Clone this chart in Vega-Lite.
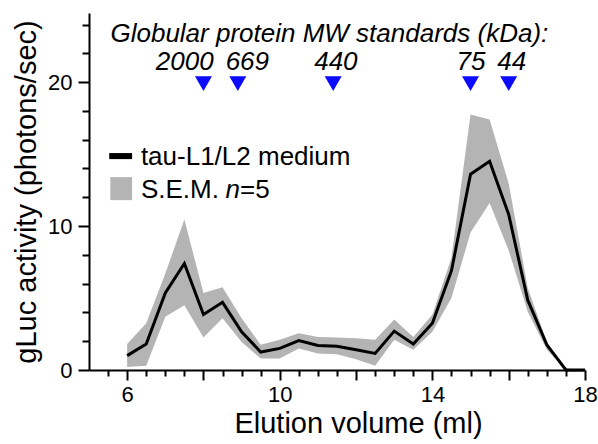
{
  "$schema": "https://vega.github.io/schema/vega-lite/v6.json",
  "width": 496,
  "height": 357,
  "autosize": {"type": "none"},
  "padding": {"left": 89, "top": 13, "right": 13, "bottom": 74},
  "config": {
    "view": {"stroke": null},
    "font": "Liberation Sans",
    "axis": {
      "grid": false,
      "domainColor": "black",
      "domainWidth": 2,
      "tickColor": "black",
      "tickWidth": 2,
      "labelColor": "black",
      "titleColor": "black",
      "labelFont": "Liberation Sans",
      "titleFont": "Liberation Sans",
      "titleFontWeight": "normal",
      "labelFontSize": 22,
      "titleFontSize": 29
    }
  },
  "resolve": {"axis": {"x": "independent", "y": "independent"}},
  "datasets": {
    "series": [
      {"x": 6, "y": 1.0, "lo": 0.2, "hi": 1.8},
      {"x": 6.5, "y": 1.8, "lo": 0.3, "hi": 3.25},
      {"x": 7, "y": 5.35, "lo": 3.7, "hi": 6.7},
      {"x": 7.5, "y": 7.4, "lo": 4.5, "hi": 10.45},
      {"x": 8, "y": 3.85, "lo": 2.25, "hi": 5.35},
      {"x": 8.5, "y": 4.7, "lo": 3.6, "hi": 5.75},
      {"x": 9, "y": 2.65, "lo": 1.95, "hi": 3.6},
      {"x": 9.5, "y": 1.25, "lo": 0.8, "hi": 1.75},
      {"x": 10, "y": 1.5, "lo": 0.8, "hi": 2.1},
      {"x": 10.5, "y": 2.05, "lo": 1.5, "hi": 2.55},
      {"x": 11, "y": 1.7, "lo": 1.15, "hi": 2.3},
      {"x": 11.5, "y": 1.65, "lo": 1.1, "hi": 2.25},
      {"x": 12, "y": 1.4, "lo": 0.75, "hi": 2.2},
      {"x": 12.5, "y": 1.15, "lo": 0.3, "hi": 2.1},
      {"x": 13, "y": 2.7, "lo": 2.1, "hi": 3.5},
      {"x": 13.5, "y": 1.8, "lo": 1.4, "hi": 2.3},
      {"x": 14, "y": 3.25, "lo": 2.65, "hi": 3.85},
      {"x": 14.5, "y": 6.9, "lo": 5.0, "hi": 7.8},
      {"x": 15, "y": 13.6, "lo": 9.55, "hi": 17.75},
      {"x": 15.5, "y": 14.5, "lo": 11.6, "hi": 17.4},
      {"x": 16, "y": 10.8, "lo": 8.3, "hi": 12.95},
      {"x": 16.5, "y": 4.85, "lo": 4.05, "hi": 5.7},
      {"x": 17, "y": 1.75, "lo": 1.4, "hi": 1.95},
      {"x": 17.5, "y": 0, "lo": 0, "hi": 0.1},
      {"x": 18, "y": 0, "lo": 0, "hi": 0}
    ],
    "standards": [
      {"x": 8.0, "y": 19.9},
      {"x": 8.9, "y": 19.9},
      {"x": 11.4, "y": 19.9},
      {"x": 15.0, "y": 19.9},
      {"x": 16.0, "y": 19.9}
    ],
    "standardLabels": [
      {"x": 7.51, "y": 20.83, "label": "2000"},
      {"x": 9.15, "y": 20.83, "label": "669"},
      {"x": 11.47, "y": 20.83, "label": "440"},
      {"x": 15.01, "y": 20.83, "label": "75"},
      {"x": 16.08, "y": 20.83, "label": "44"}
    ],
    "heading": [
      {"x": 11.3, "y": 22.8, "label": "Globular protein MW standards (kDa):"}
    ],
    "legendLine": [
      {"x": 5.53, "x2": 6.13, "y": 14.65, "y2": 15.07}
    ],
    "legendBand": [
      {"x": 5.56, "x2": 6.13, "y": 11.8, "y2": 13.4}
    ],
    "legendText": [
      {"x": 6.36, "y": 14.24, "label": "tau-L1/L2 medium"},
      {"x": 6.36, "y": 11.92, "label": "S.E.M."},
      {"x": 8.96, "y": 11.92, "label": "=5"}
    ],
    "legendItalic": [
      {"x": 8.58, "y": 11.92, "label": "n"}
    ]
  },
  "layer": [
    {
      "data": {"name": "series"},
      "mark": {"type": "area", "color": "#b4b4b4"},
      "encoding": {
        "x": {
          "field": "x",
          "type": "quantitative",
          "scale": {"domain": [5, 18], "nice": false, "zero": false},
          "axis": {
            "orient": "bottom",
            "title": "Elution volume (ml)",
            "titleX": 269,
            "values": [6, 8, 10, 12, 14, 16, 18],
            "tickSize": 10,
            "labelExpr": "datum.value % 4 === 2 ? datum.label : ''",
            "labelFlush": false,
            "labelOverlap": false,
            "labelPadding": 4,
            "titlePadding": 4
          }
        },
        "y": {
          "field": "lo",
          "type": "quantitative",
          "scale": {"domain": [0, 24.8], "nice": false},
          "axis": {
            "orient": "left",
            "title": "gLuc activity (photons/sec)",
            "values": [0, 10, 20],
            "tickSize": 11,
            "labelOverlap": false,
            "labelPadding": 6,
            "titlePadding": 6
          }
        },
        "y2": {"field": "hi"}
      }
    },
    {
      "data": {"name": "series"},
      "mark": {"type": "line", "color": "black", "strokeWidth": 3},
      "encoding": {
        "x": {
          "field": "x",
          "type": "quantitative",
          "axis": {
            "orient": "bottom",
            "title": null,
            "values": [5.5, 6.5, 7, 7.5, 8.5, 9, 9.5, 10.5, 11, 11.5, 12.5, 13, 13.5, 14.5, 15, 15.5, 16.5, 17, 17.5],
            "tickSize": 6,
            "labels": false,
            "domain": false
          }
        },
        "y": {
          "field": "y",
          "type": "quantitative",
          "axis": {
            "orient": "left",
            "title": null,
            "values": [2, 4, 6, 8, 12, 14, 16, 18, 22, 24],
            "tickSize": 7,
            "labels": false,
            "domain": false
          }
        }
      }
    },
    {
      "data": {"name": "standards"},
      "mark": {"type": "point", "shape": "M-1,-0.865L1,-0.865L0,0.865Z", "filled": true, "color": "#0a0aff", "opacity": 1, "size": 289, "strokeWidth": 0},
      "encoding": {
        "x": {"field": "x", "type": "quantitative", "axis": null},
        "y": {"field": "y", "type": "quantitative", "axis": null}
      }
    },
    {
      "data": {"name": "standardLabels"},
      "mark": {"type": "text", "fontStyle": "italic", "fontSize": 26, "align": "center", "baseline": "alphabetic", "color": "black"},
      "encoding": {
        "x": {"field": "x", "type": "quantitative", "axis": null},
        "y": {"field": "y", "type": "quantitative", "axis": null},
        "text": {"field": "label"}
      }
    },
    {
      "data": {"name": "heading"},
      "mark": {"type": "text", "fontStyle": "italic", "fontSize": 26, "align": "center", "baseline": "alphabetic", "color": "black"},
      "encoding": {
        "x": {"field": "x", "type": "quantitative", "axis": null},
        "y": {"field": "y", "type": "quantitative", "axis": null},
        "text": {"field": "label"}
      }
    },
    {
      "data": {"name": "legendLine"},
      "mark": {"type": "rect", "color": "black"},
      "encoding": {
        "x": {"field": "x", "type": "quantitative", "axis": null},
        "x2": {"field": "x2"},
        "y": {"field": "y", "type": "quantitative", "axis": null},
        "y2": {"field": "y2"}
      }
    },
    {
      "data": {"name": "legendBand"},
      "mark": {"type": "rect", "color": "#b4b4b4"},
      "encoding": {
        "x": {"field": "x", "type": "quantitative", "axis": null},
        "x2": {"field": "x2"},
        "y": {"field": "y", "type": "quantitative", "axis": null},
        "y2": {"field": "y2"}
      }
    },
    {
      "data": {"name": "legendText"},
      "mark": {"type": "text", "fontSize": 26, "align": "left", "baseline": "alphabetic", "color": "black"},
      "encoding": {
        "x": {"field": "x", "type": "quantitative", "axis": null},
        "y": {"field": "y", "type": "quantitative", "axis": null},
        "text": {"field": "label"}
      }
    },
    {
      "data": {"name": "legendItalic"},
      "mark": {"type": "text", "fontSize": 26, "fontStyle": "italic", "align": "left", "baseline": "alphabetic", "color": "black"},
      "encoding": {
        "x": {"field": "x", "type": "quantitative", "axis": null},
        "y": {"field": "y", "type": "quantitative", "axis": null},
        "text": {"field": "label"}
      }
    }
  ]
}
